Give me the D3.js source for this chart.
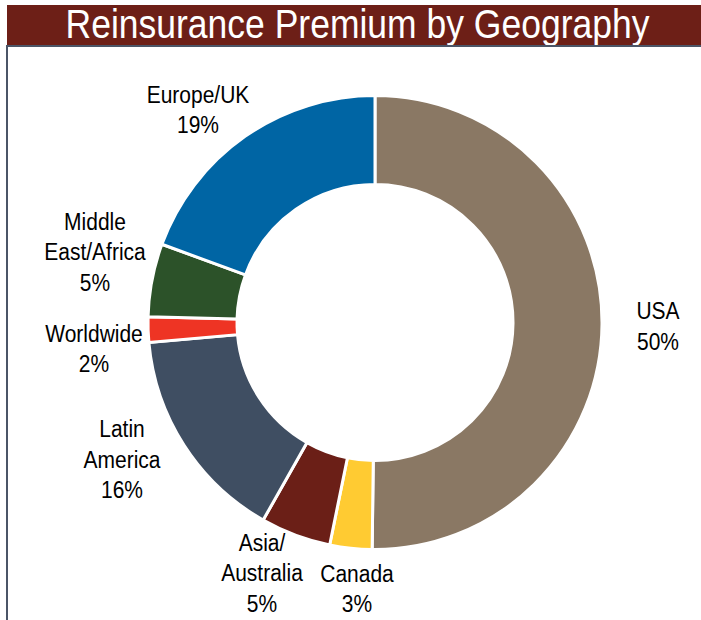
<!DOCTYPE html>
<html>
<head>
<meta charset="utf-8">
<script src="https://cdn.jsdelivr.net/npm/d3@7"></script>
<style>
  body { margin: 0; background: #fff; }
  text { font-family: "Liberation Sans", Arial, sans-serif; }
</style>
</head>
<body>
<script>
// regions, clockwise from 12 o'clock
var regions = ["USA", "Canada", "Asia/Australia", "Latin America", "Worldwide", "Middle East/Africa", "Europe/UK"];
// share of premium
var shares = [50.2, 3.0, 5.0, 15.4, 1.8, 5.2, 19.4];
// percent labels as printed on the chart
var pctLabels = ["50%", "3%", "5%", "16%", "2%", "5%", "19%"];
// how the region names wrap
var nameLines = [["USA"], ["Canada"], ["Asia/", "Australia"], ["Latin", "America"], ["Worldwide"], ["Middle", "East/Africa"], ["Europe/UK"]];
var colors = ["#8a7864", "#ffcb32", "#6b1f17", "#3f4e62", "#ee3424", "#2c5229", "#0065a4"];

var width = 701, height = 620;
var cx = 375, cy = 322.5;
var outerR = 227, innerR = 138;

// label block positions (center x, first baseline) relative to the donut center
var labelPos = [[283, -3.5], [-18, 259], [-113, 228], [-253, 114.5], [-281, 19], [-280, -93], [-177, -220]];
var lineGap = 30.5;
var stretch = 1.15; // text in the original is drawn a bit tall

var svg = d3.select('body').append('svg')
  .attr("width", width)
  .attr("height", height);

// title bar
svg.append("rect")
  .attr("x", 7)
  .attr("y", 5)
  .attr("width", width - 7)
  .attr("height", 40)
  .attr("fill", "#6d1f17");

svg.append("text")
  .attr("transform", "translate(357.5,37.5) scale(1," + stretch + ")")
  .attr("text-anchor", "middle")
  .attr("fill", "#fff")
  .style("font-size", "35.5px")
  .text("Reinsurance Premium by Geography");

// frame lines under title and on the left
svg.append("line")
  .attr("x1", 7).attr("x2", width)
  .attr("y1", 46).attr("y2", 46)
  .attr("stroke", "#4b5567")
  .attr("stroke-width", 2);
svg.append("line")
  .attr("x1", 7).attr("x2", 7)
  .attr("y1", 45).attr("y2", height)
  .attr("stroke", "#4b5567")
  .attr("stroke-width", 2);

var data = regions.map(function (r, i) {
  return { name: r, value: shares[i], pct: pctLabels[i], lines: nameLines[i], color: colors[i], pos: labelPos[i] };
});

var pie = d3.pie()
  .sort(null)
  .value(function (d) { return d.value; });

var arc = d3.arc()
  .innerRadius(innerR)
  .outerRadius(outerR);

var g = svg.append("g")
  .attr("transform", "translate(" + cx + "," + cy + ")");

g.selectAll("path")
  .data(pie(data))
  .enter()
  .append("path")
    .attr("d", arc)
    .attr("fill", function (d) { return d.data.color; })
    .attr("stroke", "#fff")
    .attr("stroke-width", 3);

// labels, one text per line so each can be stretched
var labels = g.selectAll(".lbl")
  .data(data)
  .enter()
  .append("g")
    .attr("class", "lbl");

labels.each(function (d) {
  var t = d3.select(this);
  var lines = d.lines.concat([d.pct]);
  lines.forEach(function (s, k) {
    t.append("text")
      .attr("transform", "translate(" + d.pos[0] + "," + (d.pos[1] + k * lineGap) + ") scale(1," + stretch + ")")
      .attr("text-anchor", "middle")
      .attr("fill", "#000")
      .style("font-size", "21px")
      .text(s);
  });
});
</script>
</body>
</html>
